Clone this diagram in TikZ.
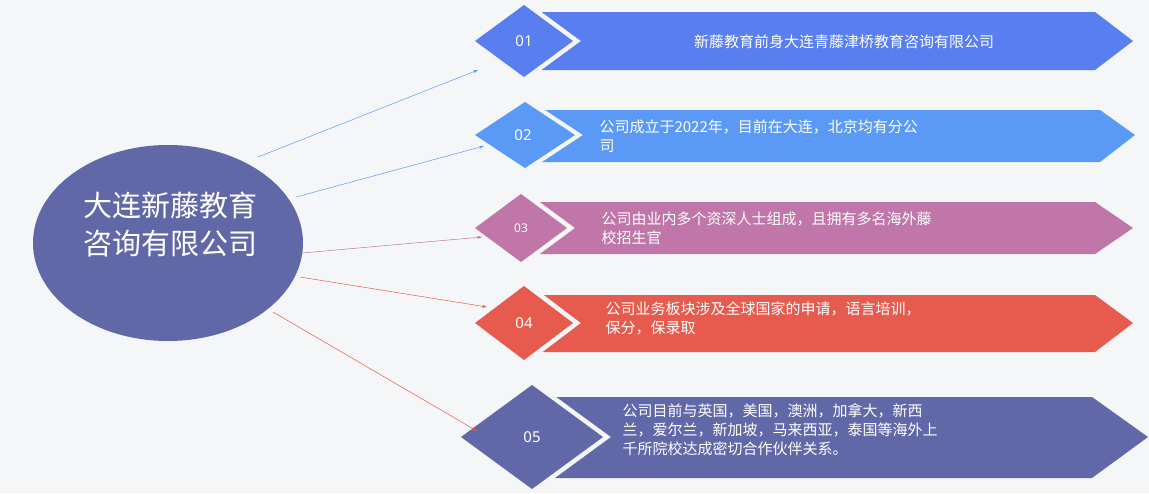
\documentclass[tikz,border=0pt]{standalone}
\usepackage{fontspec}
\setmainfont{Noto Sans CJK SC}
\newfontfamily\numfont{Noto Sans}
\usetikzlibrary{arrows.meta,shapes.geometric}
\definecolor{bgc}{HTML}{F5F6F8}
\definecolor{cA}{HTML}{587EF0}
\definecolor{cB}{HTML}{5A9AF6}
\definecolor{cC}{HTML}{C076A8}
\definecolor{cD}{HTML}{E65B4E}
\definecolor{cE}{HTML}{6168A8}
\newcommand\myrow[9]{%
  \pgfmathsetmacro\vx{#1+#3+8}%
  \pgfmathsetmacro\lt{\vx-(#2-#5)*#3/#4}%
  \pgfmathsetmacro\lb{\vx-(#6-#2)*#3/#4}%
  \fill[#9] (#1-#3,#2) -- (#1,#2-#4) -- (#1+#3,#2) -- (#1,#2+#4) -- cycle;
  \fill[#9] (\lt,#5) -- (#7,#5) -- (#8,#2) -- (#7,#6) -- (\lb,#6) -- (\vx,#2) -- cycle;
}
\begin{document}
\begin{tikzpicture}[x=1pt,y=-1pt,
  lbl/.style={text=white,font=\fontsize{15}{19}\selectfont,align=left,anchor=west},
  num/.style={text=white,font=\numfont\fontsize{15}{18}\selectfont},
  conn/.style={-{Stealth[length=5pt,width=3pt]},line width=0.5pt}]
\fill[bgc] (0,0) rectangle (1149,493);
\useasboundingbox (0,0) rectangle (1149,493);
\node[ellipse,fill=cE,minimum width=270pt,minimum height=196pt,inner sep=0pt] (hub) at (168,243) {};
\node[text=white,font=\fontsize{29}{38}\selectfont,align=center] at (170,225) {大连新藤教育\\咨询有限公司};
\myrow{524}{41}{49}{36}{12}{70}{1095}{1133}{cA}
\myrow{525}{135}{50}{33}{110}{162}{1100}{1135}{cB}
\myrow{521}{228}{46}{34}{202}{254}{1095}{1133}{cC}
\myrow{524}{323}{49}{37}{295}{352}{1095}{1133}{cD}
\myrow{532}{437}{71}{52}{397}{478}{1092}{1148}{cE}
\node[num] (d1) at (524,41) {01};
\node[num] (d2) at (523,135) {02};
\node[num,font=\numfont\fontsize{12}{14}\selectfont] (d3) at (521,228) {03};
\node[num] (d4) at (524,323) {04};
\node[num] (d5) at (532,437) {05};
\node[text=white,font=\fontsize{15}{19}\selectfont] (t1) at (844,42) {新藤教育前身大连青藤津桥教育咨询有限公司};
\node[lbl] (t2) at (596,136) {公司成立于2022年，目前在大连，北京均有分公\\司};
\node[lbl] (t3) at (598,228) {公司由业内多个资深人士组成，且拥有多名海外藤\\校招生官};
\node[lbl] (t4) at (602,318) {公司业务板块涉及全球国家的申请，语言培训，\\保分，保录取};
\node[lbl] (t5) at (619,430) {公司目前与英国，美国，澳洲，加拿大，新西\\兰，爱尔兰，新加坡，马来西亚，泰国等海外上\\千所院校达成密切合作伙伴关系。};
\coordinate (s1) at (258,157); \coordinate (e1) at (478,70);
\coordinate (s2) at (296,197); \coordinate (e2) at (484,146);
\coordinate (s3) at (302,253); \coordinate (e3) at (482,237);
\coordinate (s4) at (300,277); \coordinate (e4) at (487,307);
\coordinate (s5) at (273,312); \coordinate (e5) at (477,431);
\draw[conn,cB] (s1) -- (e1);
\draw[conn,cB] (s2) -- (e2);
\draw[conn,cC] (s3) -- (e3);
\draw[conn,cD] (s4) -- (e4);
\draw[conn,cD] (s5) -- (e5);
\end{tikzpicture}
\end{document}
